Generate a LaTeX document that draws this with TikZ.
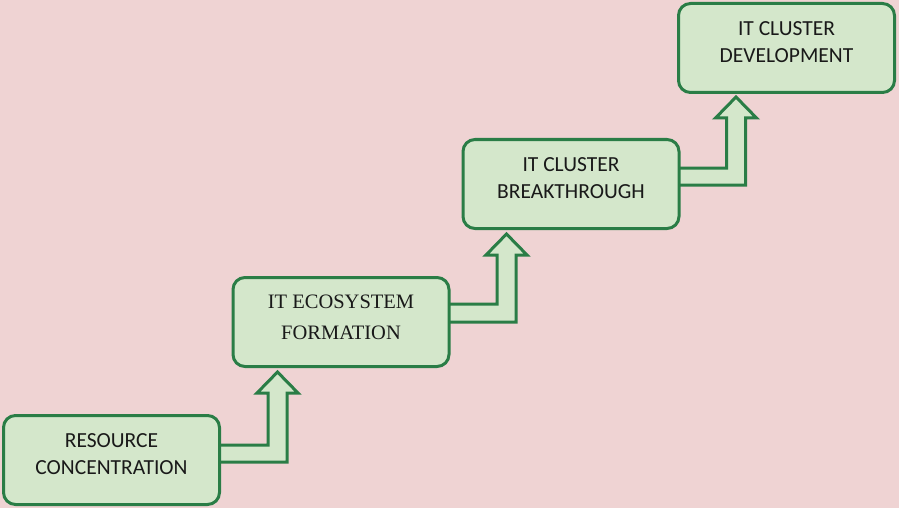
\documentclass[tikz,border=0pt]{standalone}
\usepackage{fontspec}
\setmainfont{Carlito}
\newfontfamily\serifbox{Liberation Serif}
\usetikzlibrary{calc,backgrounds}
\definecolor{bgpink}{RGB}{239,211,211}
\definecolor{boxfill}{RGB}{212,231,203}
\definecolor{boxline}{RGB}{42,125,70}
\newcommand{\twolines}[2]{\raisebox{4pt}[\height][\depth]{\begin{tabular}{@{}c@{}}#1\\#2\end{tabular}}}
\tikzset{
  stepbox/.style={draw=boxline, fill=boxfill, line width=3pt, rounded corners=12pt,
    minimum width=216pt, minimum height=89pt, outer sep=0pt,
    font=\fontsize{21.5}{27}\selectfont, text=black!90},
  bentarrow/.style={draw=boxline, fill=boxfill, line width=3pt, line join=miter},
}
\begin{document}
\begin{tikzpicture}[x=1pt,y=-1pt]
% boxes
\node[stepbox] (b1) at (111.5,460) {\twolines{RESOURCE}{CONCENTRATION}};
\node[stepbox, font=\serifbox\fontsize{20.5}{31}\selectfont] (b2) at (341,322) {\twolines{IT ECOSYSTEM}{FORMATION}};
\node[stepbox] (b3) at (571,184) {\twolines{IT CLUSTER}{BREAKTHROUGH}};
\node[stepbox] (b4) at (786.5,48) {\twolines{IT CLUSTER}{DEVELOPMENT}};
% tips and band levels
\coordinate (t1) at (277.5,372);
\coordinate (u1) at (0,445); \coordinate (l1) at (0,462);
\coordinate (t2) at (506.5,234);
\coordinate (u2) at (0,304); \coordinate (l2) at (0,322);
\coordinate (t3) at (736,97);
\coordinate (u3) at (0,168); \coordinate (l3) at (0,185);
\begin{scope}[on background layer]
\fill[bgpink] (0,0) rectangle (899,508);
\foreach \s/\i in {b1/1,b2/2,b3/3}{
  \draw[bentarrow] (\s.east |- u\i) -- ($(t\i |- u\i)+(-9.5,0)$) -- ($(t\i)+(-9.5,21)$)
    -- ($(t\i)+(-20.5,21)$) -- (t\i) -- ($(t\i)+(20.5,21)$) -- ($(t\i)+(9.5,21)$)
    -- ($(t\i |- l\i)+(9.5,0)$) -- (\s.east |- l\i);
}
\end{scope}
\useasboundingbox (0,0) rectangle (899,508);
\end{tikzpicture}
\end{document}
